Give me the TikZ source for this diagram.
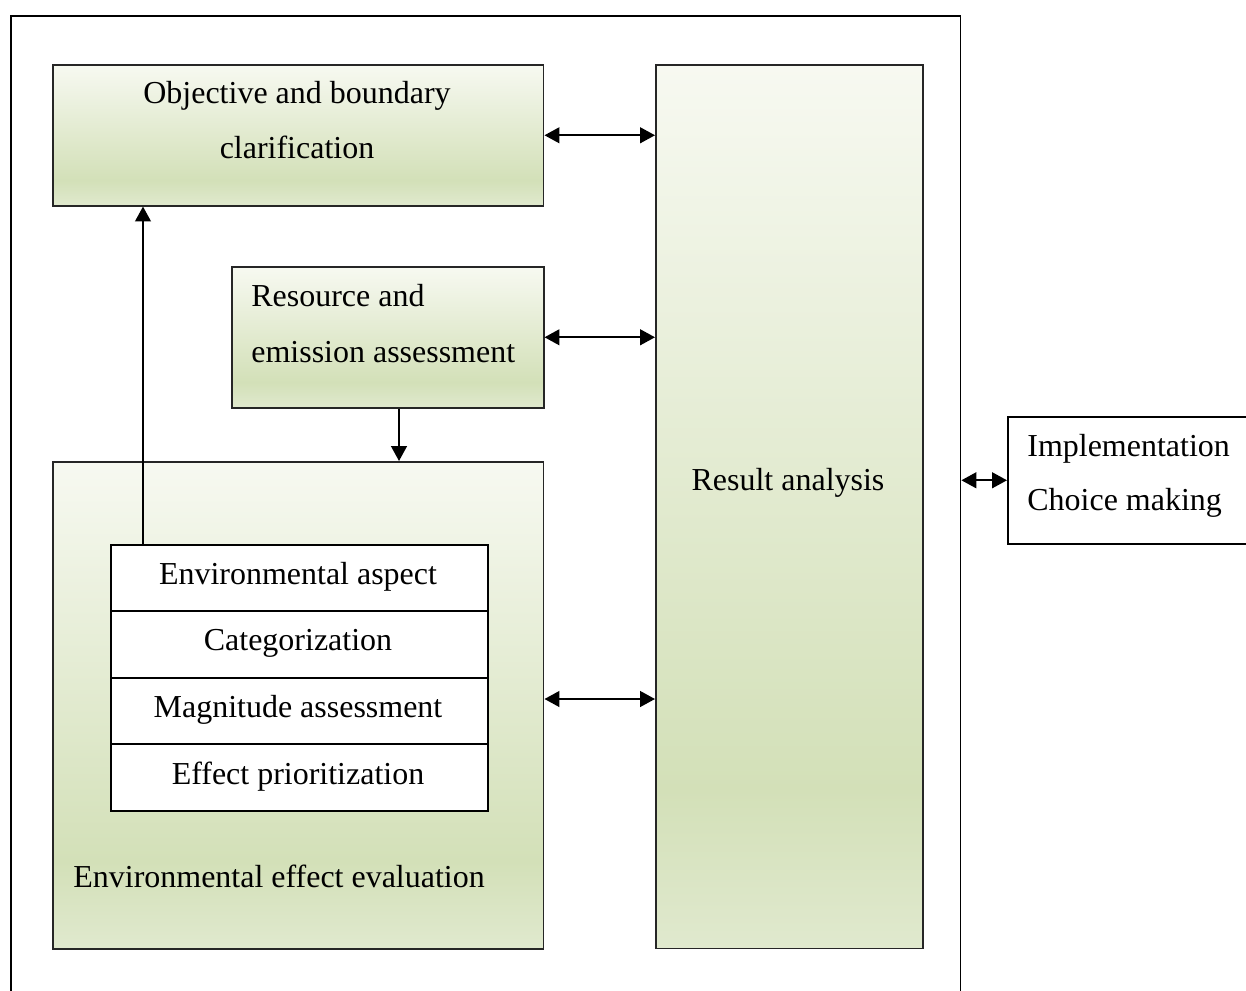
\documentclass[tikz,border=0pt]{standalone}
\usepackage{fontspec}
\setmainfont{Liberation Serif}
\usetikzlibrary{arrows.meta}

% soft olive gradient: light top, deepest near the lower part, slightly lighter bottom
\definecolor{gTop}{RGB}{247,249,241}
\definecolor{gDeep}{RGB}{211,224,184}
\definecolor{gBot}{RGB}{224,233,206}
\pgfdeclareverticalshading{olivefade}{100bp}{%
  color(0bp)=(gBot); color(25bp)=(gBot); color(34bp)=(gDeep);
  color(75bp)=(gTop); color(100bp)=(gTop)}

\tikzset{
  frame/.style={draw=black, line width=0.9pt, anchor=north west, inner sep=0pt},
  greenbox/.style={frame, shading=olivefade, shade, draw=black!85},
  whitebox/.style={frame, fill=white},
  label/.style={inner sep=0pt, font=\fontsize{18.2}{21}\selectfont},
  link/.style={line width=1pt, {Triangle[length=8.5pt,width=9pt]}-{Triangle[length=8.5pt,width=9pt]}},
  flow/.style={line width=1pt, -{Triangle[length=8.5pt,width=9pt]}}
}

\begin{document}
\begin{tikzpicture}[x=0.02cm, y=-0.02cm]
\useasboundingbox (0,0) rectangle (1246,990);
\clip (0,0) rectangle (1246,990);

% outer frame (runs past the lower edge)
\node[frame, minimum width=19cm, minimum height=19.9cm] (outer) at (10,15) {};

% main blocks
\node[greenbox, minimum width=9.82cm, minimum height=2.82cm] (obj) at (52,64) {};
\node[greenbox, minimum width=5.34cm, minimum height=17.68cm] (res) at (655,64) {};
\node[greenbox, minimum width=6.24cm, minimum height=2.82cm] (src) at (231,266) {};
\node[greenbox, minimum width=9.82cm, minimum height=9.74cm] (env) at (52,461) {};

% stacked steps inside the evaluation block
\node[whitebox, minimum width=7.54cm, minimum height=1.33cm] (t1) at (110,544) {};
\node[whitebox, minimum width=7.54cm, minimum height=1.33cm] (t2) at (110,610.5) {};
\node[whitebox, minimum width=7.54cm, minimum height=1.33cm] (t3) at (110,677) {};
\node[whitebox, minimum width=7.54cm, minimum height=1.33cm] (t4) at (110,743.5) {};

% box outside the frame (cut at the right edge)
\node[whitebox, minimum width=5.06cm, minimum height=2.54cm] (impl) at (1007,416) {};

% texts
\node[label, anchor=base] (objA) at (297,103) {Objective and boundary};
\node[label, anchor=base] (objB) at (297,158) {clarification};
\node[label, anchor=base west] (srcA) at (251,306) {Resource and};
\node[label, anchor=base west] (srcB) at (251,362) {emission assessment};
\node[label, anchor=base] (resT) at (788,490) {Result analysis};
\node[label, anchor=base west] (envT) at (73,887) {Environmental effect evaluation};
\node[label, anchor=base] (t1T) at (298,584) {Environmental aspect};
\node[label, anchor=base] (t2T) at (298,650) {Categorization};
\node[label, anchor=base] (t3T) at (298,717) {Magnitude assessment};
\node[label, anchor=base] (t4T) at (298,784) {Effect prioritization};
\node[label, anchor=base west] (implA) at (1027,456) {Implementation};
\node[label, anchor=base west] (implB) at (1027,510) {Choice making};

% connectors
\coordinate (upx) at (143,0);
\coordinate (downx) at (399,0);
\coordinate (envy) at (0,699);
\draw[link] (obj.east) -- (res.west |- obj.east);
\draw[link] (src.east) -- (res.west |- src.east);
\draw[link] (env.east |- envy) -- (res.west |- envy);
\draw[link] (outer.east |- impl.west) -- (impl.west);
\draw[flow] (t1.north -| upx) -- (obj.south -| upx);
\draw[flow] (src.south -| downx) -- (env.north -| downx);
\end{tikzpicture}
\end{document}
